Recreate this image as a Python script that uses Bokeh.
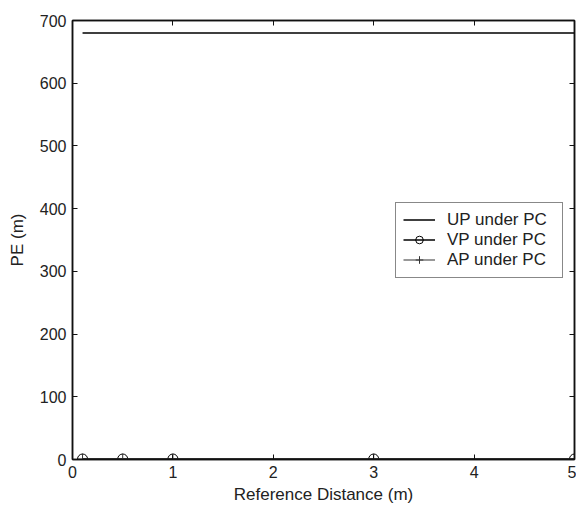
from bokeh.plotting import figure
from bokeh.models import Range1d, LinearAxis, FixedTicker, Legend, LegendItem, CustomLabelingPolicy
from bokeh.embed import file_html
from bokeh.resources import INLINE

# data
ref_dist = [0.1, 0.5, 1.0, 3.0, 5.0]
up_pe = [680, 680, 680, 680, 680]
vp_pe = [0.8, 0.8, 0.8, 0.8, 0.8]
ap_pe = [0.5, 0.5, 0.5, 0.5, 0.5]
x_ticks = [0, 1, 2, 3, 4, 5]
y_ticks = [0, 100, 200, 300, 400, 500, 600, 700]

FONT = "Liberation Sans"

p = figure(width=576, height=506, output_backend="svg", toolbar_location=None,
           x_range=Range1d(0, 5), y_range=Range1d(0, 700),
           min_border_left=72, min_border_right=2, min_border_top=20, min_border_bottom=46)
p.grid.visible = False
p.outline_line_color = "#111111"
p.outline_line_width = 1.5
p.background_fill_color = "white"
p.border_fill_color = "white"

no_labels = CustomLabelingPolicy(code="""
    for (const i of indices) { indices.unset(i) }
    return indices
""")

def style_axis(ax, labels=True):
    ax.axis_line_color = "#111111"
    ax.axis_line_width = 1.5
    ax.major_tick_in = 5
    ax.major_tick_out = 0
    ax.minor_tick_line_color = None
    ax.major_tick_line_color = "#111111"
    ax.major_tick_line_width = 1
    if labels:
        ax.major_label_text_font = FONT
        ax.major_label_text_font_size = "16px"
        ax.major_label_text_color = "#222222"
        ax.major_label_standoff = 6
        ax.axis_label_text_font = FONT
        ax.axis_label_text_font_size = "17px"
        ax.axis_label_text_font_style = "normal"
        ax.axis_label_text_color = "#222222"
    else:
        ax.major_label_policy = no_labels
        ax.major_label_text_font_size = "0px"
        ax.major_label_standoff = 0

p.xaxis.ticker = FixedTicker(ticks=x_ticks)
p.yaxis.ticker = FixedTicker(ticks=y_ticks)
p.xaxis.axis_label = "Reference Distance (m)"
p.yaxis.axis_label = "PE (m)"
style_axis(p.xaxis[0])
style_axis(p.yaxis[0])
p.xaxis.axis_label_standoff = 4
p.yaxis.axis_label_standoff = 10

top = LinearAxis(ticker=FixedTicker(ticks=x_ticks))
style_axis(top, labels=False)
p.add_layout(top, "above")
right = LinearAxis(ticker=FixedTicker(ticks=y_ticks))
style_axis(right, labels=False)
p.add_layout(right, "right")

r_up = p.line(ref_dist, up_pe, line_color="black", line_width=1.5)
r_vp_l = p.line(ref_dist, vp_pe, line_color="black", line_width=1.5)
r_vp_m = p.scatter(ref_dist, vp_pe, marker="circle", size=10, fill_color=None,
                   line_color="black", line_width=1)
r_ap_l = p.line(ref_dist, ap_pe, line_color="#333333", line_width=1.2)
r_ap_m = p.scatter(ref_dist, ap_pe, marker="cross", size=11, line_color="#333333", line_width=1)

legend = Legend(items=[
    LegendItem(label="UP under PC", renderers=[r_up]),
    LegendItem(label="VP under PC", renderers=[r_vp_l, r_vp_m]),
    LegendItem(label="AP under PC", renderers=[r_ap_l, r_ap_m]),
], location="right")
legend.margin = 11
legend.padding = 7
legend.spacing = 0
legend.label_height = 19
legend.label_width = 108
legend.glyph_height = 19
legend.glyph_width = 32
legend.label_standoff = 12
legend.label_text_font = FONT
legend.label_text_font_size = "17px"
legend.label_text_color = "#222222"
legend.border_line_color = "#111111"
legend.border_line_width = 1.2
legend.background_fill_color = "white"
legend.background_fill_alpha = 1
p.add_layout(legend)

open("out.html", "w").write(file_html(p, INLINE))
